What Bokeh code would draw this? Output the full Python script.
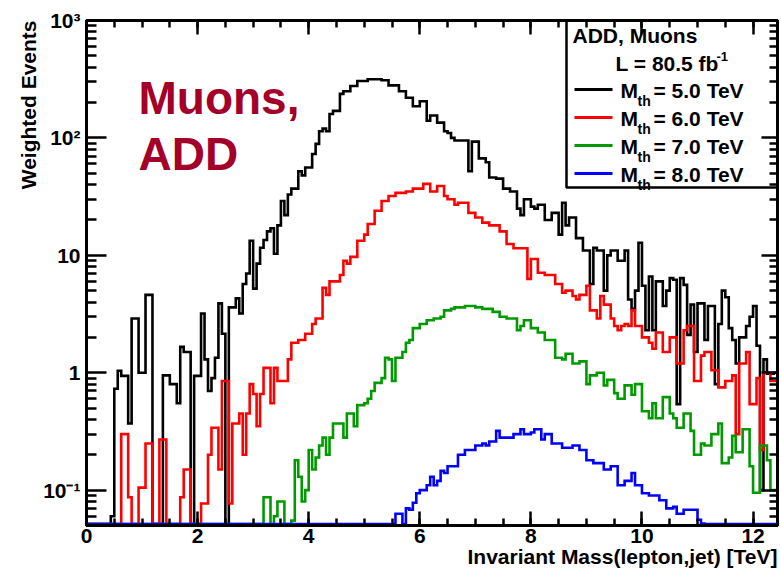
import math
from bokeh.plotting import figure
from bokeh.models import (Range1d, FixedTicker, LinearAxis, LogAxis, Title,
                          CustomJSTickFormatter)
from bokeh.core.properties import value
from bokeh.embed import file_html
from bokeh.resources import INLINE

# ---------------- data ----------------
BIN_WIDTH = 0.0625          # TeV
X_MAX = 12.44
Y_MIN, Y_MAX = 0.05, 1000.0

# Weighted events per bin (rows of 8 bins = 0.5 TeV)
mth_5 = [
    0, 0, 0, 0, 0, 0, 0, 0.06,
    0.73, 1.04, 0.94, 0.94, 0.37, 2.9, 2.9, 1.0,
    1.0, 4.6, 4.6, 0, 0, 0, 0.95, 0.95,
    0.8, 0.8, 0.55, 1.66, 1.5, 1.5, 0, 0.94,
    0.94, 3.2, 1.3, 0.7, 0.9, 1.34, 3.9, 2.15,
    0, 3.6, 3.6, 4.3, 3.2, 5.7, 7.0, 13.3,
    5.2, 8.5, 11.6, 13.5, 16, 17, 10.3, 18,
    29, 22, 33, 37, 37, 52, 48, 56,
    56, 73, 89, 114, 120, 114, 160, 170,
    170, 237, 250, 250, 277, 277, 305, 305,
    305, 316, 316, 316, 316, 310, 310, 280,
    280, 280, 250, 250, 220, 220, 186, 186,
    205, 205, 140, 155, 155, 135, 135, 114,
    110, 100, 95, 95, 95, 95, 52, 93,
    93, 67, 67, 62, 46, 46, 45, 45,
    37, 37, 35, 35, 25, 22, 30, 30,
    26, 25, 27, 27, 20, 20, 23, 23,
    15, 28, 18, 21, 21, 14, 14, 11,
    11, 5.7, 11.6, 11, 11, 5, 10, 11,
    11, 9, 9, 11, 4.2, 3.5, 5, 12.8,
    5.5, 2.3, 6.6, 2.3, 6, 6, 3.7, 5.0,
    6.4, 6.2, 0.54, 6.4, 5.6, 2.1, 3.8, 1.5,
    3.9, 3.9, 1.9, 3.7, 3.7, 0.8, 2.6, 5.0,
    4.4, 2.4, 1.9, 1.2, 2.0, 2.0, 2.5, 3.0,
    3.7, 1.7, 0.1, 1.3, 0.98, 0.98, 1.0, 1.0,
]

mth_6 = [
    0, 0, 0, 0, 0, 0, 0, 0,
    0, 0, 0.30, 0.30, 0.087, 0, 0, 0.105,
    0.105, 0.25, 0.25, 0, 0, 0.27, 0.27, 0,
    0, 0, 0, 0.087, 0.15, 0.15, 0, 0,
    0, 0.077, 0.077, 0.2, 0.34, 0.34, 0.15, 0.85,
    0.85, 0.077, 0.37, 0.37, 0.45, 0.2, 0.45, 0.8,
    0.66, 0.35, 0.66, 1.1, 1.1, 0.55, 1.1, 0.85,
    0.85, 0.85, 1.3, 1.8, 1.8, 1.9, 1.9, 2.15,
    2.15, 2.6, 2.9, 2.9, 5.3, 4.6, 6.0, 6.0,
    6.0, 6.8, 9.0, 8.5, 9.7, 9.7, 13.3, 13.3,
    15, 18.5, 18.5, 24, 24, 29, 29, 32,
    32, 34, 34, 34, 35, 35, 37, 37,
    37, 40.6, 40.6, 35, 35, 39, 39, 32,
    30, 30, 27, 28, 28, 28, 23, 23,
    21, 21, 19, 19, 18, 18, 18, 16,
    16, 12.5, 12.5, 11.5, 11.5, 11.5, 11.5, 6.3,
    9.3, 9.3, 7.1, 7.1, 6.8, 6.8, 6.8, 5.7,
    5.7, 4.8, 5.0, 5.0, 4.5, 4.2, 4.6, 4.6,
    5.5, 3.4, 3.4, 2.9, 4.5, 3.8, 3.8, 2.9,
    2.5, 2.3, 2.5, 2.6, 2.5, 3.4, 2.5, 2.5,
    2.0, 2.0, 1.8, 1.6, 2.2, 2.2, 1.5, 1.5,
    2.0, 2.0, 1.2, 1.2, 2.3, 2.5, 2.5, 0.85,
    0.85, 1.4, 1.5, 1.5, 1.05, 1.05, 0.75, 0.75,
    0.85, 0.85, 0.95, 0.3, 1.2, 1.2, 1.5, 0.54,
    0.54, 0.9, 0.22, 1.0, 1.0, 0.85, 0.85, 0.85,
]

mth_7 = [
    0, 0, 0, 0, 0, 0, 0, 0,
    0, 0, 0, 0, 0, 0, 0, 0,
    0, 0, 0, 0, 0, 0, 0, 0,
    0, 0, 0, 0, 0, 0, 0, 0,
    0, 0, 0, 0, 0, 0, 0, 0,
    0, 0, 0, 0, 0, 0, 0, 0,
    0, 0, 0, 0.087, 0.087, 0, 0.06, 0.08,
    0.08, 0, 0, 0.055, 0.18, 0.13, 0.08, 0.1,
    0.22, 0.15, 0.19, 0.24, 0.28, 0.2, 0.28, 0.37,
    0.37, 0.37, 0.28, 0.45, 0.45, 0.35, 0.53, 0.53,
    0.55, 0.6, 0.7, 0.82, 0.82, 0.9, 1.34, 1.3,
    0.85, 1.34, 1.34, 1.5, 1.8, 1.9, 2.4, 2.4,
    2.6, 2.6, 2.8, 2.8, 2.9, 2.9, 3.0, 3.4,
    3.4, 3.5, 3.6, 3.6, 3.6, 3.7, 3.7, 3.7,
    3.6, 3.6, 3.5, 3.5, 3.5, 3.3, 3.3, 3.0,
    3.0, 2.9, 2.9, 2.9, 2.3, 2.5, 2.8, 2.8,
    2.4, 2.4, 2.2, 2.2, 1.9, 1.9, 1.9, 1.34,
    1.34, 1.3, 1.45, 1.45, 1.2, 1.2, 1.25, 1.25,
    0.8, 0.95, 0.95, 1.0, 1.0, 0.78, 0.87, 0.87,
    0.67, 0.6, 0.6, 0.78, 0.78, 0.65, 0.8, 0.8,
    0.47, 0.47, 0.41, 0.55, 0.41, 0.41, 0.62, 0.62,
    0.45, 0.41, 0.34, 0.34, 0.45, 0.45, 0.32, 0.2,
    0.2, 0.25, 0.24, 0.24, 0.3, 0.3, 0.37, 0.17,
    0.17, 0.19, 0.29, 0.21, 0.21, 0.33, 0.33, 0.16,
    0.095, 0.095, 0.24, 0.24, 0.18, 0.1, 0.1, 0.1,
]

mth_8 = [
    0, 0, 0, 0, 0, 0, 0, 0,
    0, 0, 0, 0, 0, 0, 0, 0,
    0, 0, 0, 0, 0, 0, 0, 0,
    0, 0, 0, 0, 0, 0, 0, 0,
    0, 0, 0, 0, 0, 0, 0, 0,
    0, 0, 0, 0, 0, 0, 0, 0,
    0, 0, 0, 0, 0, 0, 0, 0,
    0, 0, 0, 0, 0, 0, 0, 0,
    0, 0, 0, 0, 0, 0, 0, 0,
    0, 0, 0, 0, 0, 0, 0, 0,
    0, 0, 0, 0, 0, 0, 0, 0,
    0, 0.063, 0.063, 0, 0.07, 0.068, 0.078, 0.094,
    0.1, 0.1, 0.11, 0.13, 0.11, 0.12, 0.146, 0.14,
    0.16, 0.16, 0.16, 0.2, 0.2, 0.22, 0.22, 0.22,
    0.24, 0.24, 0.25, 0.24, 0.26, 0.26, 0.32, 0.28,
    0.28, 0.28, 0.28, 0.3, 0.3, 0.33, 0.3, 0.3,
    0.31, 0.33, 0.33, 0.27, 0.3, 0.3, 0.25, 0.25,
    0.25, 0.23, 0.23, 0.23, 0.24, 0.24, 0.22, 0.22,
    0.18, 0.18, 0.17, 0.17, 0.17, 0.15, 0.15, 0.16,
    0.16, 0.11, 0.11, 0.12, 0.12, 0.14, 0.11, 0.11,
    0.094, 0.094, 0.09, 0.09, 0.09, 0.082, 0.082, 0.07,
    0.07, 0.072, 0.063, 0.063, 0.068, 0.068, 0.068, 0.068,
    0.056, 0.052, 0, 0, 0, 0, 0, 0,
    0, 0, 0, 0, 0, 0, 0, 0,
    0, 0, 0, 0, 0, 0, 0, 0,
]

series_labels = ["5.0", "6.0", "7.0", "8.0"]
series_colors = ["#000000", "#ff0000", "#009a00", "#0000ff"]
series_values = [mth_5, mth_6, mth_7, mth_8]

x_ticks = [0, 2, 4, 6, 8, 10, 12]
y_ticks = [0.1, 1, 10, 100, 1000]

# ---------------- layout ----------------
FL, FR, FT, FB = 86, 4, 20, 47
FW, FH = 691, 505
FONT = "Liberation Sans"
TITLE_RED = "#a3002a"

LOG_LO, LOG_HI = math.log10(Y_MIN), math.log10(Y_MAX)


def dx(px):
    return X_MAX * (px - FL) / FW


def dy(py):
    return 10 ** (LOG_HI - (py - FT) / FH * (LOG_HI - LOG_LO))


FLOOR = dy(FT + FH - 1.5)

p = figure(frame_width=FW, frame_height=FH, x_range=Range1d(0, X_MAX),
           y_range=Range1d(Y_MIN, Y_MAX), y_axis_type="log",
           output_backend="svg", toolbar_location=None,
           min_border_left=FL, min_border_right=FR,
           min_border_top=FT, min_border_bottom=FB)
p.grid.visible = False
p.background_fill_color = "white"
p.border_fill_color = "white"
p.outline_line_color = "black"
p.outline_line_width = 3

x_minor = [0.5 * k for k in range(26)]
y_minor = [m * 10 ** e for e in range(-2, 3) for m in range(2, 10)
           if Y_MIN <= m * 10 ** e <= Y_MAX]


def style_axis(ax, major, minor, show_labels, standoff=5):
    ax.axis_line_width = 3
    ax.axis_line_color = "black"
    ax.major_tick_in = major
    ax.major_tick_out = 0
    ax.minor_tick_in = minor
    ax.minor_tick_out = 0
    ax.major_tick_line_width = 2.5
    ax.minor_tick_line_width = 2.5
    ax.major_tick_line_color = "black"
    ax.minor_tick_line_color = "black"
    if show_labels:
        ax.major_label_text_font = FONT
        ax.major_label_text_font_style = "bold"
        ax.major_label_text_font_size = "21px"
        ax.major_label_text_color = "black"
        ax.major_label_standoff = standoff
    else:
        ax.major_label_text_font_size = "0px"
        ax.major_label_standoff = 0
        ax.formatter = CustomJSTickFormatter(code="return '';")


xb = p.xaxis[0]
xb.ticker = FixedTicker(ticks=x_ticks, minor_ticks=x_minor)
style_axis(xb, 14, 7, True, 3)

yl = p.yaxis[0]
yl.ticker = FixedTicker(ticks=y_ticks, minor_ticks=y_minor)
yl.formatter = CustomJSTickFormatter(code="""
const e = Math.round(Math.log10(tick));
if (e == 0) return "1";
if (e == 1) return "10";
const sup = {"-1": "\\u207b\\u00b9", "2": "\\u00b2", "3": "\\u00b3"};
return "10" + sup[String(e)];
""")
style_axis(yl, 20, 10, True, 6)

xt = LinearAxis(ticker=FixedTicker(ticks=x_ticks, minor_ticks=x_minor))
style_axis(xt, 14, 7, False)
p.add_layout(xt, "above")

yr = LogAxis(ticker=FixedTicker(ticks=y_ticks, minor_ticks=y_minor))
style_axis(yr, 16, 8, False)
p.add_layout(yr, "right")

# axis titles as side-panel titles (ROOT style: right / top aligned)
x_title = Title(text="Invariant Mass(lepton,jet) [TeV]", align="right",
                text_font=FONT, text_font_style="bold", text_font_size="21px",
                text_color="black", standoff=-6)
p.add_layout(x_title, "below")
y_title = Title(text="Weighted Events", align="right",
                text_font=FONT, text_font_style="bold", text_font_size="21px",
                text_color="black", standoff=2)
p.add_layout(y_title, "left")

# ---------------- histograms ----------------
nb = len(mth_5)
edges = [i * BIN_WIDTH for i in range(nb + 1)]
for vals, col in zip(series_values, series_colors):
    yv = [max(v, FLOOR) for v in vals]
    yv = yv + [yv[-1]]
    p.step(x=edges, y=yv, mode="after", line_color=col, line_width=2.6,
           line_join="miter")

# ---------------- legend box ----------------
p.quad(left=[dx(566)], right=[X_MAX], top=[Y_MAX], bottom=[dy(187)],
       fill_color="white", line_color="black", line_width=2.5)


def txt(px, baseline_py, s, size_px, color="black"):
    # anchor at the middle of the text line: baseline sits ~0.33 em lower
    mid = baseline_py - 0.33 * size_px
    p.text(x=[dx(px)], y=[dy(mid)], text=[s], text_font=value(FONT),
           text_font_style="bold", text_font_size=f"{size_px}px",
           text_color=color, text_align="left", text_baseline="middle")


row_y = [89, 117, 145, 173]
for k, (lab, col) in enumerate(zip(series_labels, series_colors)):
    yline = row_y[k]
    p.segment(x0=[dx(574)], x1=[dx(612)], y0=[dy(yline)], y1=[dy(yline)],
              line_color=col, line_width=3)
    txt(620, yline + 8, "M", 21)
    txt(637, yline + 16, "th", 14)
    txt(653, yline + 8, "= " + lab + " TeV", 21)

txt(572, 42, "ADD, Muons", 21)
txt(615, 70, "L = 80.5 fb", 21)
txt(716, 60, "-1", 13)

# ---------------- big annotation ----------------
txt(138, 113, "Muons,", 46, TITLE_RED)
txt(138, 169, "ADD", 46, TITLE_RED)

open("out.html", "w").write(file_html(p, INLINE))
